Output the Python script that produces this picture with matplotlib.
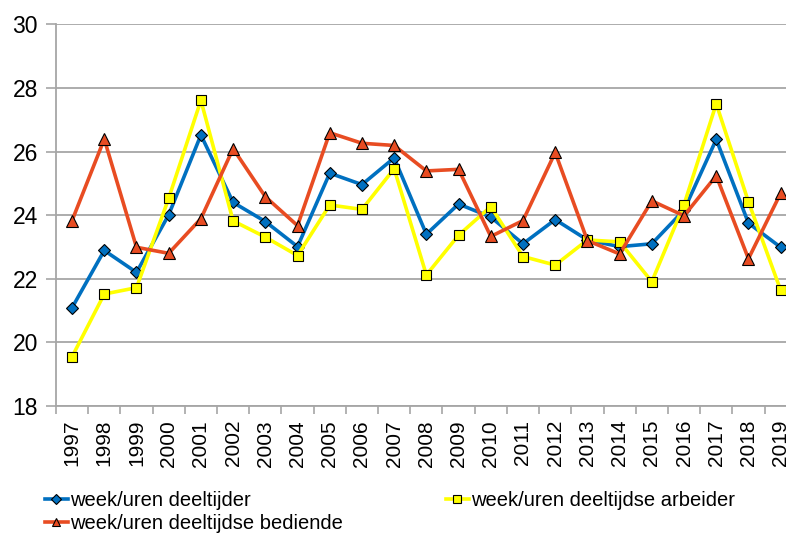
import matplotlib
matplotlib.use("Agg")
import matplotlib.pyplot as plt

# ==========================
# DATA
# ==========================

years = [str(y) for y in range(1997, 2020)]

deeltijder = [21.09, 22.89, 22.20, 24.01, 26.52, 24.40, 23.80, 23.01, 25.32, 24.96,
              25.80, 23.40, 24.35, 23.94, 23.10, 23.86, 23.22, 23.01, 23.10, 24.16,
              26.38, 23.75, 22.99]

arbeider = [19.55, 21.52, 21.72, 24.53, 27.61, 23.82, 23.31, 22.73, 24.32, 24.18,
            25.46, 22.12, 23.37, 24.27, 22.70, 22.43, 23.22, 23.16, 21.91, 24.33,
            27.50, 24.42, 21.64]

bediende = [23.83, 26.39, 22.99, 22.80, 23.89, 26.09, 24.58, 23.67, 26.59, 26.26,
            26.19, 25.39, 25.44, 23.33, 23.83, 25.97, 23.20, 22.78, 24.45, 23.98,
            25.24, 22.63, 24.69]

labels = ["week/uren deeltijder",
          "week/uren deeltijdse arbeider",
          "week/uren deeltijdse bediende"]

# ==========================
# STYLE
# ==========================

plt.rcParams["font.family"] = ["Liberation Sans", "DejaVu Sans"]

C_BLUE   = "#0070C0"
C_YELLOW = "#FFFF00"
C_RED    = "#E84C22"
GRID_COL = "#A6A6A6"

fig = plt.figure(figsize=(7.86, 5.36), dpi=100)
# right edge deliberately past the figure: the last category is clipped in the original
ax = fig.add_axes([0.0712, 0.2425, 1.0137 - 0.0712, 0.9547 - 0.2425])

x = list(range(len(years)))

l1, = ax.plot(x, deeltijder, color=C_BLUE, lw=2.6, marker="D", ms=6.2,
              mfc=C_BLUE, mec="black", mew=0.8, label=labels[0], zorder=3)
l2, = ax.plot(x, arbeider, color=C_YELLOW, lw=2.6, marker="s", ms=7.6,
              mfc=C_YELLOW, mec="black", mew=0.8, label=labels[1], zorder=3)
l3, = ax.plot(x, bediende, color=C_RED, lw=2.6, marker="^", ms=8.0,
              mfc=C_RED, mec="black", mew=0.8, label=labels[2], zorder=3)

ax.set_xlim(-0.5, len(years) - 0.5)
ax.set_ylim(18, 30)
ax.set_yticks(range(18, 31, 2))
ax.tick_params(axis="y", labelsize=16.5, length=7, color=GRID_COL, width=1.2, pad=6)

ax.set_xticks(x)
ax.set_xticklabels(years, rotation=90, fontsize=15)
ax.set_xticks([i - 0.5 for i in range(len(years) + 1)], minor=True)
ax.tick_params(axis="x", which="major", length=0, pad=10)
ax.tick_params(axis="x", which="minor", length=6, color=GRID_COL, width=1.2)

ax.grid(axis="y", color=GRID_COL, lw=1.3)
ax.set_axisbelow(True)
for s in ["top", "right"]:
    ax.spines[s].set_visible(False)
for s in ["left", "bottom"]:
    ax.spines[s].set_color(GRID_COL)
    ax.spines[s].set_linewidth(1.3)

# legend: row-wise ordering (blue, yellow / red)
fig.legend([l1, l3, l2], [labels[0], labels[2], labels[1]],
           loc="upper left", bbox_to_anchor=(0.057, 0.084), ncol=2,
           frameon=False, fontsize=14.5, handlelength=1.15, handletextpad=0.1,
           borderpad=0, borderaxespad=0, labelspacing=0.2, columnspacing=5.1,
           markerscale=0.8)

fig.savefig("out.png", dpi=100)
